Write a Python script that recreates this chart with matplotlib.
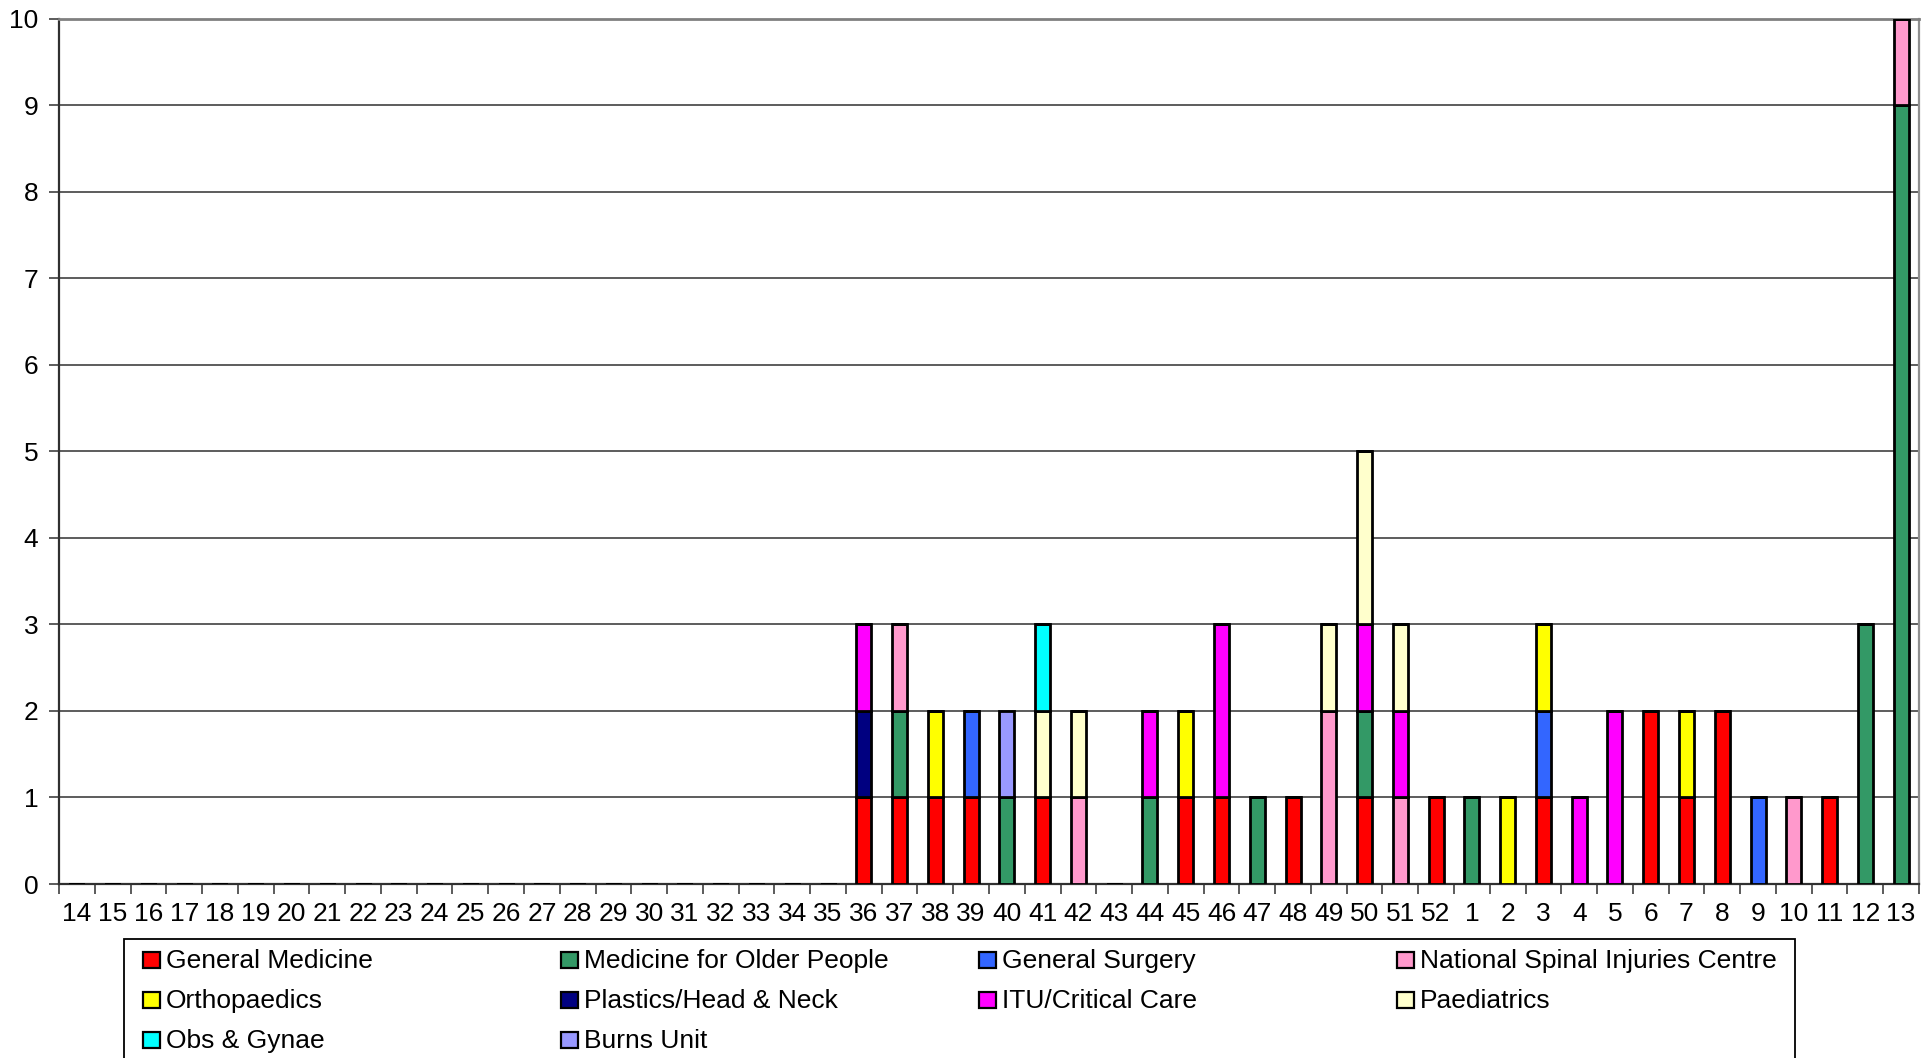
import numpy as np
import matplotlib
matplotlib.use('Agg')
import matplotlib.pyplot as plt
from matplotlib.patches import Rectangle

plt.rcParams['font.family'] = ['Liberation Sans', 'DejaVu Sans']

# week numbers, April to March
weeks = [str(w) for w in list(range(14, 53)) + list(range(1, 14))]

def series(pairs):
    ''' build a full-length series from {week: count} '''
    vals = [0] * len(weeks)
    for wk, n in pairs.items():
        vals[weeks.index(str(wk))] = n
    return vals

general_medicine = series({36: 1, 37: 1, 38: 1, 39: 1, 41: 1, 45: 1, 46: 1, 48: 1, 50: 1, 52: 1,
                           3: 1, 6: 2, 7: 1, 8: 2, 11: 1})
older_people = series({37: 1, 40: 1, 44: 1, 47: 1, 50: 1, 1: 1, 12: 3, 13: 9})
general_surgery = series({39: 1, 3: 1, 9: 1})
spinal_injuries = series({37: 1, 42: 1, 49: 2, 51: 1, 10: 1, 13: 1})
orthopaedics = series({38: 1, 45: 1, 2: 1, 3: 1, 7: 1})
plastics = series({36: 1})
itu = series({36: 1, 44: 1, 46: 2, 50: 1, 51: 1, 4: 1, 5: 2})
paediatrics = series({41: 1, 42: 1, 49: 1, 50: 2, 51: 1})
obs_gynae = series({41: 1})
burns = series({40: 1})

labels = ['General Medicine', 'Medicine for Older People', 'General Surgery',
          'National Spinal Injuries Centre', 'Orthopaedics', 'Plastics/Head & Neck',
          'ITU/Critical Care', 'Paediatrics', 'Obs & Gynae', 'Burns Unit']
data = [general_medicine, older_people, general_surgery, spinal_injuries, orthopaedics,
        plastics, itu, paediatrics, obs_gynae, burns]
colors = ['#FF0000', '#339966', '#3366FF', '#FF99CC', '#FFFF00',
          '#000080', '#FF00FF', '#FFFFCC', '#00FFFF', '#9999FF']

FS = 19
W, H = 1933, 1058
fig = plt.figure(figsize=(W / 100, H / 100), dpi=100)
ax = fig.add_axes([59 / W, 1 - 884 / H, (1919 - 59) / W, (884 - 18.7) / H])

x = np.arange(len(weeks))
bottom = np.zeros(len(weeks))
for vals, col in zip(data, colors):
    vals = np.array(vals, dtype=float)
    ax.bar(x, vals, width=0.42, bottom=bottom, color=col, edgecolor='black',
           linewidth=2.0, zorder=3)
    bottom += vals

ax.set_xlim(-0.5, len(weeks) - 0.5)
ax.set_ylim(0, 10)
ax.set_yticks(range(0, 11))
ax.set_xticks(x)
ax.set_xticklabels(weeks)
ax.set_xticks(np.arange(-0.5, len(weeks), 1), minor=True)
ax.tick_params(axis='x', which='major', length=0, pad=13, labelsize=FS)
ax.tick_params(axis='x', which='minor', length=7, width=1.2, color='#404040')
ax.tick_params(axis='y', length=7, width=1.2, color='#404040', labelsize=FS, pad=8)

ax.grid(axis='y', color='#303030', linewidth=1.1, zorder=0)
for side in ['left', 'bottom']:
    ax.spines[side].set_color('#303030')
    ax.spines[side].set_linewidth(1.6)
ax.spines['top'].set_color('#808080')
ax.spines['top'].set_linewidth(2)
ax.spines['right'].set_color('#909090')
ax.spines['right'].set_linewidth(1.6)

# legend drawn on a fixed 4-column grid
fig.patches.append(Rectangle((124 / W, -0.02), (1795 - 124) / W, (H - 939) / H + 0.02,
                             transform=fig.transFigure, fill=False, edgecolor='black',
                             linewidth=1.3))
for i, (lab, col) in enumerate(zip(labels, colors)):
    row, c = divmod(i, 4)
    mx = 143 + c * 418
    my = 960 + row * 40
    fig.patches.append(Rectangle((mx / W, 1 - (my + 8) / H), 17 / W, 16 / H,
                                 transform=fig.transFigure, facecolor=col,
                                 edgecolor='black', linewidth=1.6))
    fig.text((mx + 23) / W, 1 - (my + 1) / H, lab, fontsize=FS, va='center', ha='left')

fig.savefig('out.png', dpi=100)
